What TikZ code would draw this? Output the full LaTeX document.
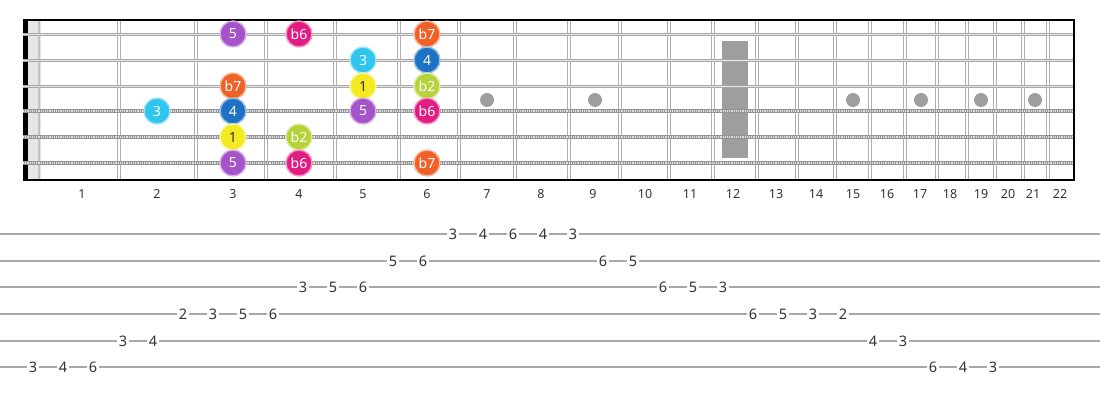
\documentclass[tikz,border=0pt]{standalone}
\usepackage{fontspec}
\setmainfont{Noto Sans}
\usetikzlibrary{positioning}
\definecolor{fretgray}{HTML}{B0B0B0}
\definecolor{strgray}{HTML}{A8A8A8}
\definecolor{woundgray}{HTML}{959595}
\definecolor{inlaygray}{HTML}{9E9E9E}
\definecolor{nutgray}{HTML}{E6E6E6}
\definecolor{nutline}{HTML}{C2C2C2}
\definecolor{txtgray}{HTML}{333333}
\definecolor{iRoot}{HTML}{F3EA22}
\definecolor{iFlatTwo}{HTML}{B5D33A}
\definecolor{iThree}{HTML}{2EC5EE}
\definecolor{iFour}{HTML}{1D72C6}
\definecolor{iFive}{HTML}{A553C9}
\definecolor{iFlatSix}{HTML}{E11D84}
\definecolor{iFlatSeven}{HTML}{F06128}
\tikzstyle{fret} = [draw=fretgray, line width=1.2pt, double=white, double distance=1.8pt]
\tikzstyle{plain} = [draw=strgray, line width=3pt]
\tikzstyle{shine} = [draw=white!70!strgray, line width=0.8pt]
\tikzstyle{wound} = [draw=woundgray, line width=4.2pt]
\tikzstyle{winding} = [draw=white!70!woundgray, line width=2.2pt, dash pattern=on 1.1pt off 1.1pt]
\tikzstyle{tabline} = [draw=strgray, line width=2pt]
\tikzstyle{note} = [circle, minimum size=26pt, inner sep=0pt, line width=1.4pt, text=white, font=\fontsize{14}{14}\selectfont]
\tikzstyle{d1} = [note, fill=iRoot, draw=iRoot!45!white, text=txtgray]
\tikzstyle{db2} = [note, fill=iFlatTwo, draw=iFlatTwo!45!white]
\tikzstyle{d3} = [note, fill=iThree, draw=iThree!45!white]
\tikzstyle{d4} = [note, fill=iFour, draw=iFour!45!white]
\tikzstyle{d5} = [note, fill=iFive, draw=iFive!45!white]
\tikzstyle{db6} = [note, fill=iFlatSix, draw=iFlatSix!45!white]
\tikzstyle{db7} = [note, fill=iFlatSeven, draw=iFlatSeven!45!white]
\tikzstyle{fretnum} = [inner sep=0pt, text=txtgray, font=\fontsize{12.5}{12.5}\selectfont]
\tikzstyle{tabnum} = [fill=white, inner sep=2pt, text=txtgray, font=\fontsize{14.5}{14.5}\selectfont]

\begin{document}
\begin{tikzpicture}[x=1pt, y=-1pt, node distance=30pt]
		\useasboundingbox (0,0) rectangle (1100,400);

		% Frets
		\draw[fret] (119,20) -- (119,180);
		\draw[fret] (196,20) -- (196,180);
		\draw[fret] (266,20) -- (266,180);
		\draw[fret] (335,20) -- (335,180);
		\draw[fret] (399,20) -- (399,180);
		\draw[fret] (459,20) -- (459,180);
		\draw[fret] (515,20) -- (515,180);
		\draw[fret] (569,20) -- (569,180);
		\draw[fret] (620,20) -- (620,180);
		\draw[fret] (669,20) -- (669,180);
		\draw[fret] (713,20) -- (713,180);
		\draw[fret] (757,20) -- (757,180);
		\draw[fret] (797,20) -- (797,180);
		\draw[fret] (835,20) -- (835,180);
		\draw[fret] (870,20) -- (870,180);
		\draw[fret] (905,20) -- (905,180);
		\draw[fret] (937,20) -- (937,180);
		\draw[fret] (967,20) -- (967,180);
		\draw[fret] (995,20) -- (995,180);
		\draw[fret] (1023,20) -- (1023,180);
		\draw[fret] (1048,20) -- (1048,180);

		% Inlays
		\fill[inlaygray] (487,100) circle (7pt);
		\fill[inlaygray] (595,100) circle (7pt);
		\fill[inlaygray] (722,41) rectangle (748,158);
		\fill[inlaygray] (853,100) circle (7pt);
		\fill[inlaygray] (921,100) circle (7pt);
		\fill[inlaygray] (981,100) circle (7pt);
		\fill[inlaygray] (1035,100) circle (7pt);

		% Nut
		\fill[black] (23,20) rectangle (28,180);
		\fill[nutgray] (28,20) rectangle (41,180);
		\draw[nutline, line width=2pt] (39,20) -- (39,180);

		% Strings
		\draw[plain] (23,34) -- (1074,34);
		\draw[shine] (23,34) -- (1074,34);
		\draw[plain] (23,60) -- (1074,60);
		\draw[shine] (23,60) -- (1074,60);
		\draw[plain] (23,86) -- (1074,86);
		\draw[shine] (23,86) -- (1074,86);
		\draw[wound] (23,111) -- (1074,111);
		\draw[winding] (23,111) -- (1074,111);
		\draw[wound] (23,137) -- (1074,137);
		\draw[winding] (23,137) -- (1074,137);
		\draw[wound] (23,163) -- (1074,163);
		\draw[winding] (23,163) -- (1074,163);

		% Board edges
		\draw[black, line width=1.5pt] (23,20) -- (1074,20);
		\draw[black, line width=1.5pt] (23,180) -- (1074,180);
		\draw[black, line width=2pt] (1074,19.25) -- (1074,180.75);

		% Notes, string 1
		\node[d5] (s1f3) at (233,34) {5};
		\node[db6] (s1f4) at (299,34) {b6};
		\node[db7] (s1f6) at (427,34) {b7};
		% Notes, string 2
		\node[d3] (s2f5) at (363,60) {3};
		\node[d4] (s2f6) at (427,60) {4};
		% Notes, string 3
		\node[db7] (s3f3) at (233,86) {b7};
		\node[d1] (s3f5) at (363,86) {1};
		\node[db2] (s3f6) at (427,86) {b2};
		% Notes, string 4
		\node[d3] (s4f2) at (157,111) {3};
		\node[d4] (s4f3) at (233,111) {4};
		\node[d5] (s4f5) at (363,111) {5};
		\node[db6] (s4f6) at (427,111) {b6};
		% Notes, string 5
		\node[d1] (s5f3) at (233,137) {1};
		\node[db2] (s5f4) at (299,137) {b2};
		% Notes, string 6
		\node[d5] (s6f3) at (233,163) {5};
		\node[db6] (s6f4) at (299,163) {b6};
		\node[db7] (s6f6) at (427,163) {b7};

		% Fret numbers
		\node[fretnum] (f1) at (82,194) {1};
		\node[fretnum] (f2) at (157,194) {2};
		\node[fretnum] (f3) at (233,194) {3};
		\node[fretnum] (f4) at (299,194) {4};
		\node[fretnum] (f5) at (363,194) {5};
		\node[fretnum] (f6) at (427,194) {6};
		\node[fretnum] (f7) at (487,194) {7};
		\node[fretnum] (f8) at (541,194) {8};
		\node[fretnum] (f9) at (593,194) {9};
		\node[fretnum] (f10) at (645,194) {10};
		\node[fretnum] (f11) at (690,194) {11};
		\node[fretnum] (f12) at (733,194) {12};
		\node[fretnum] (f13) at (776,194) {13};
		\node[fretnum] (f14) at (816,194) {14};
		\node[fretnum] (f15) at (853,194) {15};
		\node[fretnum] (f16) at (887,194) {16};
		\node[fretnum] (f17) at (920,194) {17};
		\node[fretnum] (f18) at (950,194) {18};
		\node[fretnum] (f19) at (981,194) {19};
		\node[fretnum] (f20) at (1008,194) {20};
		\node[fretnum] (f21) at (1033,194) {21};
		\node[fretnum] (f22) at (1060,194) {22};

		% Tab lines
		\draw[tabline] (0,234) -- (1100,234);
		\draw[tabline] (0,261) -- (1100,261);
		\draw[tabline] (0,287) -- (1100,287);
		\draw[tabline] (0,314) -- (1100,314);
		\draw[tabline] (0,341) -- (1100,341);
		\draw[tabline] (0,367) -- (1100,367);

		% Tab, going up
		\node[tabnum] (t1) at (33,367) {3};
		\node[tabnum, right of=t1] (t2) {4};
		\node[tabnum, right of=t2] (t3) {6};
		\node[tabnum] (t4) at (123,341) {3};
		\node[tabnum, right of=t4] (t5) {4};
		\node[tabnum] (t6) at (183,314) {2};
		\node[tabnum, right of=t6] (t7) {3};
		\node[tabnum, right of=t7] (t8) {5};
		\node[tabnum, right of=t8] (t9) {6};
		\node[tabnum] (t10) at (303,287) {3};
		\node[tabnum, right of=t10] (t11) {5};
		\node[tabnum, right of=t11] (t12) {6};
		\node[tabnum] (t13) at (393,261) {5};
		\node[tabnum, right of=t13] (t14) {6};
		\node[tabnum] (t15) at (453,234) {3};
		\node[tabnum, right of=t15] (t16) {4};
		\node[tabnum, right of=t16] (t17) {6};
		% Tab, going down
		\node[tabnum, right of=t17] (t18) {4};
		\node[tabnum, right of=t18] (t19) {3};
		\node[tabnum] (t20) at (603,261) {6};
		\node[tabnum, right of=t20] (t21) {5};
		\node[tabnum] (t22) at (663,287) {6};
		\node[tabnum, right of=t22] (t23) {5};
		\node[tabnum, right of=t23] (t24) {3};
		\node[tabnum] (t25) at (753,314) {6};
		\node[tabnum, right of=t25] (t26) {5};
		\node[tabnum, right of=t26] (t27) {3};
		\node[tabnum, right of=t27] (t28) {2};
		\node[tabnum] (t29) at (873,341) {4};
		\node[tabnum, right of=t29] (t30) {3};
		\node[tabnum] (t31) at (933,367) {6};
		\node[tabnum, right of=t31] (t32) {4};
		\node[tabnum, right of=t32] (t33) {3};

	\end{tikzpicture}
\end{document}
